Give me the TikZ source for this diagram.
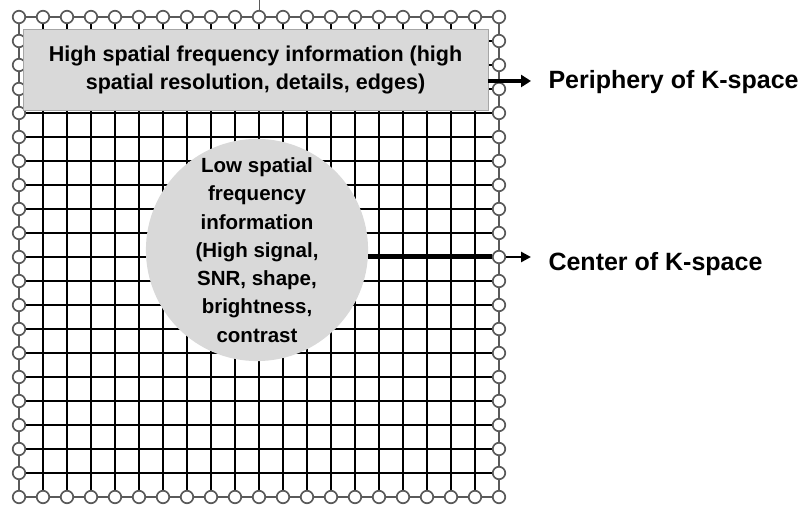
\documentclass[tikz,border=0pt]{standalone}
\usepackage{fontspec}
\setmainfont{Liberation Sans}
\usetikzlibrary{arrows.meta}

\definecolor{panelgray}{RGB}{217,217,217}
\definecolor{rimgray}{RGB}{90,90,90}

\tikzset{
  sample/.style={circle, draw=rimgray, line width=1.7pt, fill=white, minimum size=12.5pt, inner sep=0pt},
  gridline/.style={line width=2.4pt, black},
  rimline/.style={line width=1.8pt, rimgray},
  panel/.style={draw=gray!70, fill=panelgray, align=center, inner sep=0pt},
  sidetext/.style={anchor=west, font=\bfseries\fontsize{25}{28}\selectfont}
}

\begin{document}
\begin{tikzpicture}[x=1pt,y=-1pt]
  \useasboundingbox (0,0) rectangle (811,510);

  % K-space grid
  \foreach \k in {1,...,19}{
    \draw[gridline] (19+24*\k,17) -- (19+24*\k,497);
    \draw[gridline] (19,17+24*\k) -- (499,17+24*\k);
  }
  \draw[rimline] (19,17) rectangle (499,497);

  % Samples on the rim
  \foreach \k in {0,...,20}{
    \node[sample] (t\k) at (19+24*\k,17) {};
    \node[sample] (b\k) at (19+24*\k,497) {};
  }
  \foreach \k in {1,...,19}{
    \node[sample] (l\k) at (19,17+24*\k) {};
    \node[sample] (r\k) at (499,17+24*\k) {};
  }
  \draw[rimgray, thin] (t10.north) -- (t10.north |- 0,0);

  % High frequencies
  \node[panel, minimum width=465pt, minimum height=81pt,
        font=\bfseries\fontsize{21.5}{28}\selectfont] (hf) at (255.5,69.5)
    {High spatial frequency information (high\\spatial resolution, details, edges)};

  % Low frequencies
  \node[circle, fill=panelgray, minimum size=210pt, inner sep=0pt, align=center,
        font=\bfseries\fontsize{20.5}{28.3}\selectfont] (lf) at (257,250)
    {Low spatial\\frequency\\information\\(High signal,\\SNR, shape,\\brightness,\\contrast};

  % Arrows and labels
  \coordinate (pa) at (531,81);
  \coordinate (ca) at (531,257);
  \draw[line width=4pt, -{Triangle[length=10pt,width=12pt]}] (hf.east |- pa) -- (pa);
  \draw[line width=5pt] (lf.east |- r10) -- (r10);
  \draw[line width=2.5pt, -{Triangle[length=10pt,width=10pt]}] (r10) -- (ca);
  \node[sidetext] (pl) at (545,82) {Periphery of K-space};
  \node[sidetext] (cl) at (545,264) {Center of K-space};
\end{tikzpicture}
\end{document}
